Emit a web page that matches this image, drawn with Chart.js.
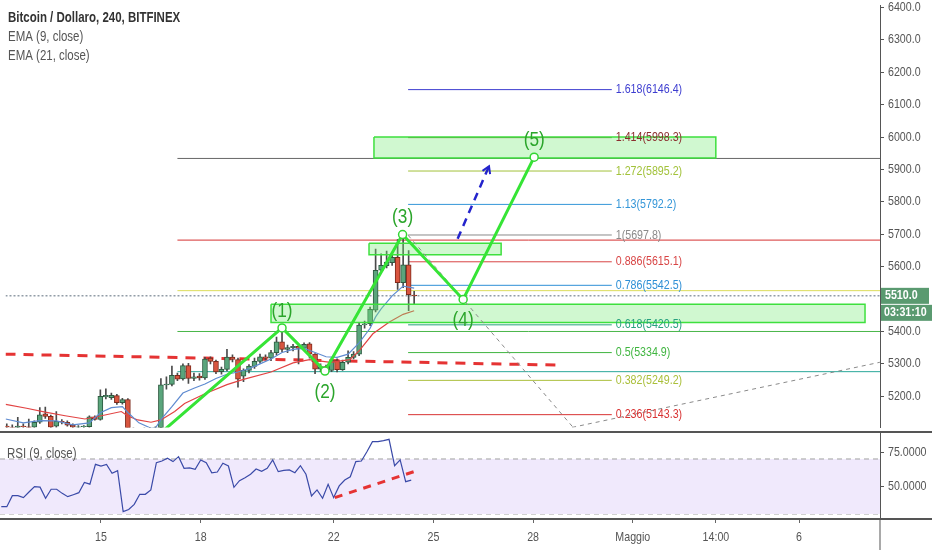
<!DOCTYPE html>
<html>
<head>
<meta charset="utf-8">
<script src="https://cdn.jsdelivr.net/npm/chart.js@4.4.1/dist/chart.umd.min.js"></script>
<style>
  html, body { margin: 0; padding: 0; background: #fff; overflow: hidden; }
  #wrap { position: relative; width: 932px; height: 550px; }
  #price { position: absolute; left: 0; top: 0; width: 932px; height: 433px; }
  #rsi { position: absolute; left: 0; top: 433px; width: 932px; height: 117px; }
</style>
</head>
<body>
<div id="wrap">
  <canvas id="price" width="932" height="433"></canvas>
  <canvas id="rsi" width="932" height="117"></canvas>
</div>
<script>
// no narrow font installed: Liberation Sans squeezed to ~Arial Narrow width
const FONT = '"Liberation Sans", Arial, sans-serif';
const SQUEEZE = 0.82;

// 4h candles, index 0 = 12 Apr 00:00
const opens = [5108,5105,5104,5108,5106,5105,5120,5146,5138,5108, 5123,5120,5111,5105,5106,5106,5137,5129,5198,5196,
  5202,5180,5190,5098,5090,5095,5101,5100,5103,5235, 5237,5265,5254,5295,5255,5262,5257,5318,5308,5276,
  5283,5321,5313,5262,5280,5292,5308,5322,5318,5335, 5368,5345,5350,5354,5348,5362,5330,5284,5292,5280,
  5310,5282,5305,5320,5330,5420,5424,5466,5589,5603, 5612,5629,5551,5606,5512];
const highs = [5115,5112,5135,5115,5130,5124,5165,5167,5142,5153, 5128,5124,5115,5110,5110,5140,5140,5220,5223,5210,
  5206,5194,5193,5103,5100,5103,5104,5106,5255,5260, 5293,5272,5300,5302,5272,5270,5320,5322,5312,5290,
  5345,5328,5318,5285,5298,5318,5330,5328,5342,5383, 5405,5358,5360,5358,5365,5366,5332,5300,5296,5318,
  5316,5312,5340,5338,5428,5432,5475,5654,5640,5648, 5640,5684,5697,5650,5524];
const lows = [5098,5098,5100,5102,5102,5102,5116,5132,5100,5104, 5115,5108,5100,5100,5102,5104,5126,5126,5192,5190,
  5175,5176,5095,5085,5082,5088,5094,5095,5100,5222, 5232,5248,5250,5240,5248,5250,5252,5300,5270,5268,
  5278,5306,5228,5245,5272,5286,5302,5312,5310,5328, 5338,5335,5340,5300,5342,5318,5270,5276,5270,5276,
  5275,5280,5300,5315,5325,5410,5418,5460,5580,5596, 5604,5530,5535,5464,5484];
const closes = [5105,5104,5108,5106,5104,5120,5143,5138,5105,5123, 5120,5111,5105,5106,5108,5137,5129,5200,5203,5203,
  5180,5190,5098,5090,5095,5101,5100,5103,5235,5238, 5265,5253,5295,5255,5260,5257,5315,5308,5275,5283,
  5321,5314,5253,5280,5293,5308,5322,5318,5335,5368, 5345,5350,5354,5348,5360,5330,5284,5292,5280,5310,
  5282,5305,5320,5330,5420,5424,5468,5589,5604,5614, 5629,5551,5606,5514,5510];

// moving averages (bar index, price)
const ema9X = [-0.2,3,6,9,12,15,17,19,21,22,24,26,27,28,30,32,34,36,38,40,42,44,46,48,50,52,54,56,58,60,62,64,66,67,68,70,72,74];
const ema9 = [5130,5118,5125,5124,5112,5118,5149,5165,5168,5150,5118,5103,5102,5128,5168,5210,5225,5238,5255,5268,5275,5285,5300,5315,5335,5345,5348,5335,5322,5320,5330,5365,5410,5445,5470,5510,5540,5534];
const ema21X = [-0.2,3.6,7,10.6,14.2,17.2,20.8,22,23.8,26.2,28,30.5,32.3,36,40,43,48,52,55,58.8,62.3,64,66.5,69.5,72,74];
const ema21 = [5175,5163,5151,5140,5130,5140,5153,5139,5127,5120,5127,5153,5178,5208,5236,5252,5275,5303,5313,5305,5313,5340,5393,5429,5453,5464];

// fibonacci extension
const fibRatios = ['1.618','1.414','1.272','1.13','1','0.886','0.786','0.618','0.5','0.382','0.236'];
const fibPrices = [6146.4, 5998.3, 5895.2, 5792.2, 5697.8, 5615.1, 5542.5, 5420.5, 5334.9, 5249.2, 5143.3];
const fibColors = ['#3d3dd0','#8b2e2e','#a2c23a','#3496d8','#8a8a8a','#d84545','#2e8fd6','#27a17e','#3fb53f','#aabf3a','#d83232'];
const fibX1 = 72.9, fibX2 = 109.9;

// horizontal rays
const hLevels = [5934, 5682, 5526, 5400, 5276];
const hColors = ['#666666', '#d63232', '#dcdc5a', '#49b649', '#2aa89a'];
const hStart = 31;

const lastPrice = 5510;
const countdown = '03:31:10';

// elliott wave pivots
const waveX = [27.5, 50.0, 57.8, 71.9, 82.9, 95.8];
const waveY = [5080, 5411, 5278, 5699, 5499, 5938];
const waveNames = ['', '(1)', '(2)', '(3)', '(4)', '(5)'];

// zones
const boxX1 = [66.7, 65.8, 48.0];
const boxX2 = [128.8, 89.8, 155.9];
const boxTop = [6000, 5672, 5484];
const boxBottom = [5935, 5637, 5428];

// drawn trend lines
const redDashX = [-0.23, 100.9], redDashY = [5330, 5296];
const arrowX = [81.9, 87.6], arrowY = [5686, 5910];
const gray1X = [72.9, 104.6], gray1Y = [5697, 5070];
const gray2X = [102.7, 158.6], gray2Y = [5104, 5305];

const priceTicks = [5200,5300,5400,5500,5600,5700,5800,5900,6000,6100,6200,6300,6400];

// RSI(9)
const rsi = [35.3,35.3,43.3,43.3,41.9,46,49.9,49.5,41.4,48, 48,45,42.6,44,45.5,53,51.7,66.1,64.9,66.1,
  59.6,61.5,31.7,33.3,37,44.3,44.3,47.5,67.3,68.5, 70.5,68.1,71.7,63.2,63.5,62.5,69.3,67.3,60,60.5,
  66.9,64.9,49.4,54.2,56.4,58.9,62.7,61,63.2,69.3, 60.8,61.7,62.1,60,65.1,58.9,43.1,47.5,41.4,51.6,
  41.9,50.4,54.7,57.1,68.1,68.5,75.3,82.6,82.6,83.3, 84.3,65.1,69.3,53.5,54.6];
const rsiUpper = 70, rsiLower = 30;
const rsiTicks = [50, 75];
const rsiDashX = [60.2, 75.0], rsiDashY = [41.9, 61.5];

const xTickPos = [18, 36, 60, 78, 96, 114, 129, 144];
const xTickLabels = ['15', '18', '22', '25', '28', 'Maggio', '14:00', '6'];

const X_MIN = -0.23, X_MAX = 158.62;
const Y_MIN = 5103.7, Y_MAX = 6406;
const R_MIN = 26.36, R_MAX = 88.9;

function seg(xs, ys, color, width, dash, order) {
  return {
    type: 'line',
    data: xs.map((x, i) => ({x: x, y: ys[i]})),
    borderColor: color, borderWidth: width, borderDash: dash || [],
    pointRadius: 0, fill: false, tension: 0, order: order
  };
}

// narrow text: scale horizontally around the anchor point
function text(ctx, str, x, y, font, color, align) {
  ctx.save();
  ctx.font = font;
  ctx.fillStyle = color;
  ctx.textAlign = align || 'left';
  ctx.textBaseline = 'middle';
  ctx.translate(x, y);
  ctx.scale(SQUEEZE, 1);
  ctx.fillText(str, 0, 0);
  ctx.restore();
}

const idx = opens.map((_, i) => i);
const up = idx.map(i => closes[i] >= opens[i]);

const priceDatasets = [];
fibPrices.forEach((p, i) => priceDatasets.push(seg([fibX1, fibX2], [p, p], fibColors[i], 1, [], 10)));
hLevels.forEach((p, i) => priceDatasets.push(seg([hStart, X_MAX], [p, p], hColors[i], 1, [], 10)));
priceDatasets.push(seg([X_MIN, X_MAX], [lastPrice, lastPrice], '#5b6b7b', 1, [2, 2], 10));
priceDatasets.push(seg(redDashX, redDashY, '#e53333', 3, [10, 8], 9));
priceDatasets.push({
  type: 'bar', data: idx.map(i => ({x: i, y: [lows[i], highs[i]]})),
  backgroundColor: '#4a4a4a', barThickness: 1, grouped: false, order: 8
});
priceDatasets.push({
  type: 'bar', data: idx.map(i => ({x: i, y: [opens[i], closes[i]]})),
  backgroundColor: idx.map(i => up[i] ? '#5aa57c' : '#d9553f'),
  borderColor: idx.map(i => up[i] ? '#2d5a40' : '#7d2a1c'),
  borderWidth: 1, borderSkipped: false, barThickness: 5, grouped: false, order: 7
});
priceDatasets.push(seg(ema9X, ema9, '#5f8bd0', 1.2, [], 6));
priceDatasets.push(seg(ema21X, ema21, '#e24343', 1.2, [], 6));
boxX1.forEach((x1, i) => {
  const x2 = boxX2[i], t = boxTop[i], b = boxBottom[i];
  priceDatasets.push({
    type: 'line',
    data: [{x: x1, y: t}, {x: x2, y: t}, {x: x2, y: b}, {x: x1, y: b}, {x: x1, y: t}],
    borderColor: '#3ee03e', borderWidth: 1.5, backgroundColor: 'rgba(120,235,120,0.35)',
    fill: 'shape', pointRadius: 0, tension: 0, order: 5
  });
});
priceDatasets.push(seg(gray1X, gray1Y, '#8a8a8a', 1, [4, 4], 4));
priceDatasets.push(seg(gray2X, gray2Y, '#8a8a8a', 1, [4, 4], 4));
priceDatasets.push(seg(arrowX, arrowY, '#2424cc', 2.5, [8, 6], 3));
priceDatasets.push({
  type: 'line', data: waveX.map((x, i) => ({x: x, y: waveY[i]})),
  borderColor: '#36e436', borderWidth: 3, tension: 0, fill: false,
  pointRadius: waveX.map((_, i) => i ? 4 : 0),
  pointBackgroundColor: '#ffffff', pointBorderColor: '#33d633', pointBorderWidth: 1.5,
  order: 2
});

const priceDecor = {
  id: 'priceDecor',
  afterDatasetsDraw(chart) {
    const ctx = chart.ctx, x = chart.scales.x, y = chart.scales.y;
    ctx.save();
    // arrow head
    const ax1 = x.getPixelForValue(arrowX[0]), ay1 = y.getPixelForValue(arrowY[0]);
    const ax2 = x.getPixelForValue(arrowX[1]), ay2 = y.getPixelForValue(arrowY[1]);
    const a = Math.atan2(ay2 - ay1, ax2 - ax1);
    ctx.strokeStyle = '#2424cc';
    ctx.lineWidth = 2;
    ctx.beginPath();
    ctx.moveTo(ax2 + 8 * Math.cos(a + 2.6), ay2 + 8 * Math.sin(a + 2.6));
    ctx.lineTo(ax2, ay2);
    ctx.lineTo(ax2 + 8 * Math.cos(a - 2.6), ay2 + 8 * Math.sin(a - 2.6));
    ctx.stroke();
    ctx.restore();
    // fib labels
    const fx = x.getPixelForValue(fibX2) + 4;
    fibRatios.forEach((r, i) => {
      text(ctx, r + '(' + fibPrices[i].toFixed(1) + ')', fx, y.getPixelForValue(fibPrices[i]),
        '13px ' + FONT, fibColors[i]);
    });
    // wave labels
    waveNames.forEach((n, i) => {
      if (!n) return;
      const px = x.getPixelForValue(waveX[i]);
      const py = y.getPixelForValue(waveY[i]);
      text(ctx, n, px, py + (i % 2 ? -17 : 21), '21px ' + FONT, '#2ba52b', 'center');
    });
  },
  afterDraw(chart) {
    const ctx = chart.ctx, y = chart.scales.y;
    text(ctx, 'Bitcoin / Dollaro, 240, BITFINEX', 8, 18, 'bold 14px ' + FONT, '#333');
    text(ctx, 'EMA (9, close)', 8, 37.5, '14px ' + FONT, '#555');
    text(ctx, 'EMA (21, close)', 8, 56.5, '14px ' + FONT, '#555');
    // axis labels
    const lx = chart.chartArea.right + 8;
    y.ticks.forEach(t => text(ctx, t.value.toFixed(1), lx, y.getPixelForValue(t.value), '13px ' + FONT, '#555'));
    // last price tag + countdown
    const ly = y.getPixelForValue(lastPrice);
    ctx.save();
    ctx.fillStyle = '#5a9a70';
    ctx.fillRect(881, ly - 8, 48, 16);
    ctx.fillRect(881, ly + 9, 51, 16);
    ctx.restore();
    text(ctx, lastPrice.toFixed(1), 885, ly, 'bold 13px ' + FONT, '#fff');
    text(ctx, countdown, 884, ly + 17, 'bold 13px ' + FONT, '#fff');
    // pane separator
    ctx.save();
    ctx.fillStyle = '#555';
    ctx.fillRect(0, chart.height - 2, chart.width, 2);
    ctx.restore();
  }
};

new Chart(document.getElementById('price'), {
  type: 'bar',
  data: { datasets: priceDatasets },
  options: {
    responsive: false,
    animation: false,
    layout: { padding: 0 },
    plugins: { legend: { display: false }, tooltip: { enabled: false } },
    scales: {
      x: { type: 'linear', display: false, min: X_MIN, max: X_MAX, offset: false, grid: { offset: false } },
      y: {
        type: 'linear', position: 'right', min: Y_MIN, max: Y_MAX,
        afterBuildTicks: s => { s.ticks = priceTicks.map(v => ({value: v})); },
        afterFit: s => { s.width = 52; s.paddingTop = 0; s.paddingBottom = 0; },
        grid: { drawOnChartArea: false, drawTicks: true, tickLength: 4, color: '#555' },
        border: { display: true, color: '#555', width: 1 },
        ticks: { display: false }
      }
    }
  },
  plugins: [priceDecor]
});

const rsiDecor = {
  id: 'rsiDecor',
  afterDraw(chart) {
    const ctx = chart.ctx, x = chart.scales.x, y = chart.scales.y;
    text(ctx, 'RSI (9, close)', 7, 21, '14px ' + FONT, '#555');
    const b = chart.chartArea.bottom;
    y.ticks.forEach(t => text(ctx, t.value.toFixed(4), chart.chartArea.right + 8, y.getPixelForValue(t.value), '13px ' + FONT, '#555'));
    x.ticks.forEach((t, i) => text(ctx, xTickLabels[i], x.getPixelForValue(t.value), b + 18, '13px ' + FONT, '#555', 'center'));
    ctx.save();
    ctx.fillStyle = '#555';
    ctx.fillRect(chart.chartArea.right, b - 1, chart.width - chart.chartArea.right, 2);
    ctx.fillRect(chart.chartArea.right - 0.5, b, 1, chart.height - b);
    ctx.restore();
  }
};

new Chart(document.getElementById('rsi'), {
  type: 'line',
  data: {
    datasets: [
      Object.assign(seg([X_MIN, X_MAX], [rsiUpper, rsiUpper], '#a0a0a0', 1, [5, 4], 5),
        { fill: { value: rsiLower }, backgroundColor: '#f0e9fc' }),
      seg([X_MIN, X_MAX], [rsiLower, rsiLower], '#a0a0a0', 1, [5, 4], 5),
      seg(idx, rsi, '#3a4aa8', 1.2, [], 2),
      seg(rsiDashX, rsiDashY, '#e53333', 3, [8, 7], 1)
    ]
  },
  options: {
    responsive: false,
    animation: false,
    layout: { padding: 0 },
    plugins: { legend: { display: false }, tooltip: { enabled: false } },
    scales: {
      x: {
        type: 'linear', min: X_MIN, max: X_MAX, offset: false,
        afterBuildTicks: s => { s.ticks = xTickPos.map(v => ({value: v})); },
        afterFit: s => { s.height = 31; s.paddingLeft = 0; s.paddingRight = 0; },
        grid: { drawOnChartArea: false, drawTicks: true, tickLength: 4, color: '#666', offset: false },
        border: { display: true, color: '#555', width: 2 },
        ticks: { display: false }
      },
      y: {
        type: 'linear', position: 'right', min: R_MIN, max: R_MAX,
        afterBuildTicks: s => { s.ticks = rsiTicks.map(v => ({value: v})); },
        afterFit: s => { s.width = 52; s.paddingTop = 0; s.paddingBottom = 0; },
        grid: { drawOnChartArea: false, drawTicks: true, tickLength: 4, color: '#555' },
        border: { display: true, color: '#555', width: 1 },
        ticks: { display: false }
      }
    }
  },
  plugins: [rsiDecor]
});
</script>
</body>
</html>
